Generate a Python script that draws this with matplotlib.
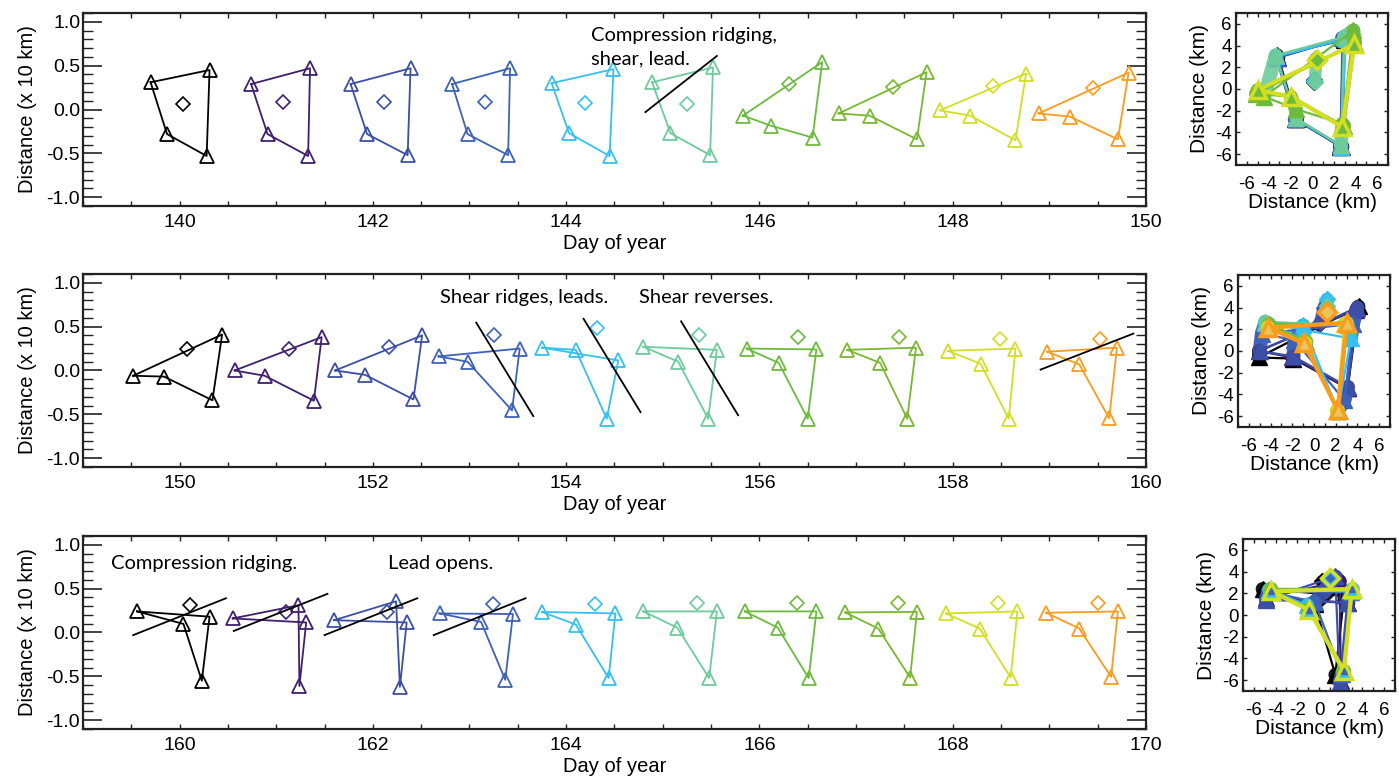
import numpy as np
import matplotlib
matplotlib.use('Agg')
import matplotlib.pyplot as plt
from matplotlib.ticker import MultipleLocator

plt.rcParams['font.family'] = ['Liberation Sans', 'DejaVu Sans']
plt.rcParams['axes.unicode_minus'] = False

# cores de cada dia (do primeiro ao ultimo)
cores = ['#000000', '#3f1f6e', '#3b4fa6', '#3d62b8', '#35c0f0',
         '#6dcb9c', '#6cbb3e', '#7ab831', '#d2df22', '#fd9b1c']

# ---------------- linha 1 (dias 140-150) ----------------
# vertices na ordem: esquerda, topo-direita, baixo-direita, meio
x1 = [[139.70, 140.31, 140.28, 139.87],
      [140.74, 141.35, 141.33, 140.91],
      [141.77, 142.39, 142.36, 141.94],
      [142.82, 143.42, 143.40, 142.98],
      [143.85, 144.49, 144.45, 144.03],
      [144.89, 145.52, 145.49, 145.08],
      [145.83, 146.65, 146.55, 146.12],
      [146.82, 147.73, 147.63, 147.14],
      [147.87, 148.76, 148.65, 148.18],
      [148.89, 149.82, 149.71, 149.21]]
y1 = [[0.31, 0.45, -0.53, -0.28],
      [0.29, 0.47, -0.53, -0.28],
      [0.29, 0.47, -0.52, -0.28],
      [0.29, 0.47, -0.52, -0.28],
      [0.30, 0.46, -0.53, -0.27],
      [0.31, 0.48, -0.52, -0.27],
      [-0.07, 0.54, -0.32, -0.185],
      [-0.045, 0.425, -0.34, -0.07],
      [-0.01, 0.41, -0.35, -0.07],
      [-0.045, 0.42, -0.34, -0.08]]
dx1 = [140.04, 141.07, 142.12, 143.16, 144.20, 145.25, 146.31, 147.38, 148.42, 149.45]
dy1 = [0.066, 0.08, 0.087, 0.087, 0.077, 0.066, 0.286, 0.26, 0.27, 0.25]
cx1 = [0.2, 0.2, 0.2, 0.2, 0.2, 0.25, 0.4, 0.45, 0.48, 0.5]   # x do centro (km)
riscos1 = [[(144.82, 145.56), (-0.03, 0.61)]]
textos1 = [('Compression ridging,', 144.26, 0.84), ('shear, lead.', 144.26, 0.58)]

# ---------------- linha 2 (dias 150-160) ----------------
x2 = [[149.52, 150.44, 150.34, 149.84],
      [150.57, 151.47, 151.39, 150.88],
      [151.61, 152.51, 152.42, 151.92],
      [152.68, 153.52, 153.44, 152.98],
      [153.75, 154.54, 154.42, 154.10],
      [154.80, 155.56, 155.47, 155.16],
      [155.87, 156.59, 156.50, 156.20],
      [156.91, 157.62, 157.53, 157.25],
      [157.95, 158.65, 158.58, 158.29],
      [158.98, 159.70, 159.62, 159.31]]
y2 = [[-0.06, 0.41, -0.34, -0.07],
      [0.0, 0.38, -0.345, -0.06],
      [0.0, 0.40, -0.33, -0.05],
      [0.16, 0.25, -0.455, 0.10],
      [0.26, 0.115, -0.55, 0.235],
      [0.27, 0.235, -0.55, 0.10],
      [0.25, 0.24, -0.55, 0.086],
      [0.235, 0.26, -0.55, 0.086],
      [0.224, 0.25, -0.55, 0.076],
      [0.214, 0.26, -0.545, 0.069]]
dx2 = [150.08, 151.13, 152.17, 153.25, 154.32, 155.37, 156.40, 157.44, 158.49, 159.52]
dy2 = [0.25, 0.25, 0.27, 0.40, 0.48, 0.41, 0.386, 0.38, 0.36, 0.36]
cx2 = [0.5, 0.5, 0.6, 0.9, 1.2, 1.2, 1.2, 1.2, 1.2, 1.2]
riscos2 = [[(153.07, 153.66), (0.545, -0.52)],
           [(154.18, 154.77), (0.59, -0.475)],
           [(155.19, 155.78), (0.56, -0.51)],
           [(158.91, 159.87), (0.01, 0.42)]]
textos2 = [('Shear ridges, leads.', 152.69, 0.83), ('Shear reverses.', 154.75, 0.83)]

# ---------------- linha 3 (dias 160-170) ----------------
x3 = [[159.56, 160.31, 160.23, 160.04],
      [160.55, 161.31, 161.24, 161.23],
      [161.60, 162.35, 162.28, 162.24],
      [162.69, 163.45, 163.37, 163.12],
      [163.75, 164.51, 164.44, 164.10],
      [164.80, 165.56, 165.48, 165.15],
      [165.85, 166.59, 166.51, 166.19],
      [166.89, 167.63, 167.56, 167.23],
      [167.93, 168.67, 168.60, 168.28],
      [168.97, 169.71, 169.64, 169.31]]
y3 = [[0.24, 0.18, -0.55, 0.097],
      [0.16, 0.114, -0.61, 0.31],
      [0.14, 0.114, -0.62, 0.355],
      [0.217, 0.21, -0.54, 0.12],
      [0.234, 0.217, -0.52, 0.09],
      [0.24, 0.24, -0.52, 0.055],
      [0.24, 0.24, -0.52, 0.055],
      [0.228, 0.235, -0.514, 0.045],
      [0.217, 0.24, -0.514, 0.045],
      [0.224, 0.24, -0.507, 0.045]]
dx3 = [160.11, 161.10, 162.15, 163.24, 164.30, 165.35, 166.39, 167.43, 168.47, 169.50]
dy3 = [0.31, 0.23, 0.23, 0.32, 0.33, 0.34, 0.34, 0.34, 0.34, 0.34]
cx3 = [0.3, 0.6, 0.6, 0.8, 0.9, 1.0, 1.0, 1.0, 1.0, 1.0]
riscos3 = [[(159.52, 160.48), (-0.03, 0.39)],
           [(160.56, 161.53), (0.017, 0.44)],
           [(161.50, 162.46), (-0.03, 0.39)],
           [(162.63, 163.58), (-0.03, 0.39)]]
textos3 = [('Compression ridging.', 159.29, 0.79), ('Lead opens.', 162.16, 0.79)]

linhas = [
    (x1, y1, dx1, dy1, cx1, riscos1, textos1, 139, 8, '#6cbb3e'),
    (x2, y2, dx2, dy2, cx2, riscos2, textos2, 149, 9, '#e8c45a'),
    (x3, y3, dx3, dy3, cx3, riscos3, textos3, 159, 8, '#35c0f0'),
]

# posicoes dos eixos (fracoes da figura)
fundo_esq = [0.7369, 0.4036, 0.0690]
pos_dir = [[0.8835, 0.7893], [0.8849, 0.4547], [0.8885, 0.1175]]

fig = plt.figure(figsize=(13.99, 7.83), dpi=100)

for i, (xs, ys, dxs, dys, cxs, riscos, textos, d0, ultimo, miolo) in enumerate(linhas):
    # painel da esquerda: um quadrilatero por dia
    ax = fig.add_axes([0.0593, fundo_esq[i], 0.7598, 0.2465])
    for k in range(10):
        c = cores[k]
        px = xs[k] + [xs[k][0]]
        py = ys[k] + [ys[k][0]]
        ax.plot(px, py, color=c, lw=1.3)
        ax.plot(xs[k], ys[k], ls='none', marker='^', ms=10, mfc='none', mec=c, mew=1.3)
        ax.plot(dxs[k], dys[k], ls='none', marker='D', ms=7, mfc='none', mec=c, mew=1.2)
    for rx, ry in riscos:
        ax.plot(rx, ry, color='black', lw=1.3)
    for t, tx, ty in textos:
        ax.text(tx, ty, t, fontsize=14.5, family=['Lato', 'DejaVu Sans'], va='center', ha='left')

    ax.set_xlim(d0, d0 + 11)
    ax.set_ylim(-1.1, 1.1)
    ax.xaxis.set_minor_locator(MultipleLocator(0.5))
    ax.yaxis.set_minor_locator(MultipleLocator(0.1))
    ax.set_xticks(np.arange(d0 + 1, d0 + 12, 2))
    ax.set_yticks([-1.0, -0.5, 0.0, 0.5, 1.0])
    ax.set_yticklabels(['-1.0', '-0.5', '0.0', '0.5', '1.0'])
    ax.tick_params(which='both', direction='in', top=True, right=True, labelsize=14, color='#222222')
    ax.tick_params(axis='y', which='major', length=14, width=1.2, pad=2)
    ax.tick_params(axis='y', which='minor', length=7, width=1.0)
    ax.tick_params(axis='x', which='both', length=3.5, width=1.0, pad=6)
    for s in ax.spines.values():
        s.set_linewidth(1.6)
        s.set_color('#222222')
    ax.set_xlabel('Day of year', fontsize=14.5, labelpad=2)
    ax.set_ylabel('Distance (x 10 km)', fontsize=14.5, labelpad=7)

    # painel da direita: todas as posicoes em km
    ar = fig.add_axes([pos_dir[i][0], pos_dir[i][1], 0.1087, 0.1941])
    xa = ya = ca = None
    for k in range(ultimo + 1):
        c = cores[k]
        xr = (np.array(xs[k]) - dxs[k]) * 10 + cxs[k]
        yr = np.array(ys[k]) * 10
        cy = dys[k] * 10
        if xa is not None:
            # rastro de cada boia entre um dia e o seguinte
            for v in range(4):
                ar.plot([xa[v], xr[v]], [ya[v], yr[v]], color=cores[k - 1], lw=10,
                        solid_capstyle='round', alpha=0.9)
            ar.plot([ca[0], cxs[k]], [ca[1], cy], color=cores[k - 1], lw=9,
                    solid_capstyle='round', alpha=0.9)
        ar.plot(list(xr) + [xr[0]], list(yr) + [yr[0]], color=c, lw=1.6)
        ar.plot(xr, yr, ls='none', marker='^', ms=11, color=c)
        ar.plot(cxs[k], cy, ls='none', marker='D', ms=8, color=c)
        xa, ya, ca = xr, yr, (cxs[k], cy)

    # ultimo dia em destaque
    cf = cores[ultimo]
    ar.plot(list(xa) + [xa[0]], list(ya) + [ya[0]], color=cf, lw=3)
    ar.plot(xa, ya, ls='none', marker='^', ms=12, mfc=miolo, mec=cf, mew=2.5)
    ar.plot(ca[0], ca[1], ls='none', marker='D', ms=9, mfc=miolo, mec=cf, mew=2.5)
    if i == 2:
        ar.plot(xa, ya, ls='none', marker='^', ms=5, color=cores[3])
        ar.plot(ca[0], ca[1], ls='none', marker='D', ms=4, color=cores[3])

    ar.set_xlim(-7, 7)
    ar.set_ylim(-7, 7)
    ar.set_xticks([-6, -4, -2, 0, 2, 4, 6])
    ar.set_yticks([-6, -4, -2, 0, 2, 4, 6])
    ar.xaxis.set_minor_locator(MultipleLocator(1))
    ar.tick_params(which='both', direction='in', top=True, right=True, labelsize=13.5,
                   length=3, width=1.0, color='#222222')
    ar.tick_params(axis='x', pad=8)
    ar.tick_params(axis='y', pad=3)
    for s in ar.spines.values():
        s.set_linewidth(1.6)
        s.set_color('#222222')
    ar.set_xlabel('Distance (km)', fontsize=15, labelpad=0)
    ar.set_ylabel('Distance (km)', fontsize=15, labelpad=4)

fig.savefig('out.png', dpi=100)
